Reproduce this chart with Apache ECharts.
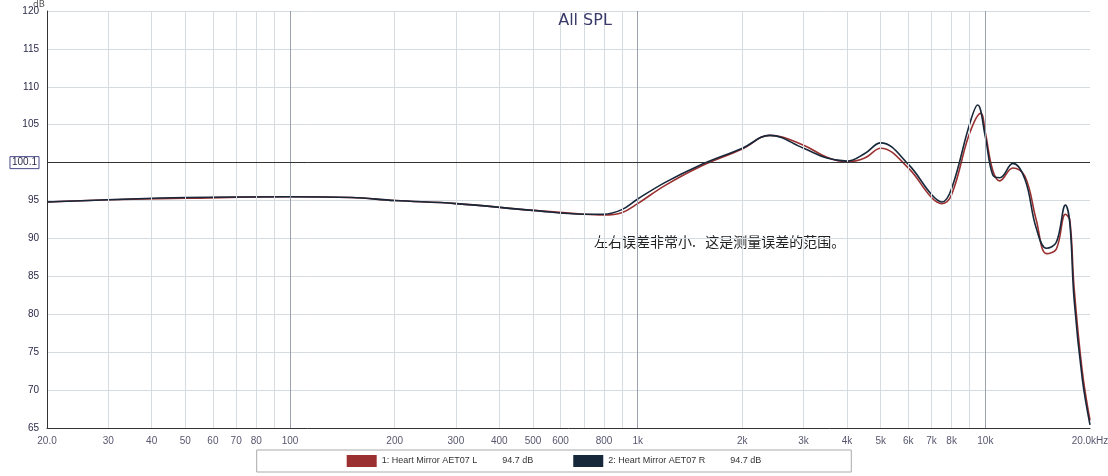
<!DOCTYPE html>
<html><head><meta charset="utf-8">
<script src="https://cdn.jsdelivr.net/npm/echarts@6/dist/echarts.min.js"></script>
<style>html,body{margin:0;background:#fff}#main{width:1108px;height:476px}</style>
</head><body><div id="main"></div>
<script>
// frequency (Hz) and SPL (dB)
var freqR = [20, 30, 50, 100, 150, 200, 300, 500, 700, 800, 900, 1000, 1200, 1500, 2000, 2400, 3000, 3500, 4000, 4500, 5000, 6000, 7000, 7500, 8000, 9000, 9500, 10000, 10500, 11000, 12000, 13000, 14000, 15000, 16000, 17000, 17500, 18000, 19000, 20000];
var splR  = [94.8, 95.1, 95.4, 95.5, 95.4, 95.0, 94.6, 93.7, 93.2, 93.2, 93.8, 95.2, 97.4, 99.6, 101.9, 103.6, 101.9, 100.6, 100.2, 101.2, 102.6, 99.8, 95.8, 94.8, 96.6, 105.0, 107.6, 103.4, 98.4, 98.0, 99.9, 97.8, 91.4, 88.7, 89.5, 94.4, 92.0, 82.0, 71.5, 65.4];
var freqL = [20, 30, 50, 100, 150, 200, 300, 500, 700, 800, 900, 1000, 1200, 1500, 2000, 2400, 3000, 3500, 4000, 4500, 5000, 6000, 7000, 7500, 8000, 9000, 9700, 10000, 10500, 11000, 12000, 13000, 14000, 15000, 16000, 17000, 17500, 18000, 19000, 20000];
var splL  = [94.8, 95.1, 95.3, 95.5, 95.4, 95.0, 94.6, 93.7, 93.2, 93.1, 93.4, 94.6, 97.0, 99.4, 101.8, 103.6, 102.3, 100.7, 100.1, 100.6, 101.9, 99.3, 95.4, 94.6, 95.8, 103.8, 106.5, 104.0, 99.0, 97.6, 99.3, 98.2, 92.5, 88.0, 88.6, 93.2, 92.4, 83.5, 72.5, 66.0];
var gridFreqs = [30, 40, 50, 60, 70, 80, 90, 200, 300, 400, 500, 600, 700, 800, 900, 2000, 3000, 4000, 5000, 6000, 7000, 8000, 9000];
var majorFreqs = [100, 1000, 10000];
var tickFreqs = [20, 30, 40, 50, 60, 70, 80, 100, 200, 300, 400, 500, 600, 800, 1000, 2000, 3000, 4000, 5000, 6000, 7000, 8000, 10000, 20000];
var tickLabels = ['20.0', '30', '40', '50', '60', '70', '80', '100', '200', '300', '400', '500', '600', '800', '1k', '2k', '3k', '4k', '5k', '6k', '7k', '8k', '10k', '20.0kHz'];

function pairs(f, v) { return f.map(function (x, i) { return [x, v[i]]; }); }

var gridLines = gridFreqs.map(function (f) {
  return { xAxis: f, lineStyle: { color: '#d6dbe0', width: 1, type: 'solid' }, label: { show: false } };
}).concat(majorFreqs.map(function (f) {
  return { xAxis: f, lineStyle: { color: '#9aa3ad', width: 1, type: 'solid' }, label: { show: false } };
}));

var chart = echarts.init(document.getElementById('main'));
chart.setOption({
  animation: false,
  title: { text: 'All SPL', left: 580, top: 8, textAlign: 'center',
    textStyle: { color: '#3a3a6a', fontSize: 16, fontWeight: 'normal', fontFamily: 'DejaVu Sans' } },
  graphic: [
    { type: 'text', left: 594, top: 235, style: { text: '左右误差非常小.   这是测量误差的范围。', fill: '#222', font: '14px "Noto Sans CJK SC"' } },
    { type: 'text', left: 33, top: 0, style: { text: 'dB', fill: '#555', font: '9px DejaVu Sans' } }
  ],
  legend: {
    data: ['1: Heart Mirror AET07 L', '2: Heart Mirror AET07 R'],
    bottom: 4, left: 'center', icon: 'rect', itemWidth: 30, itemHeight: 12, itemGap: 40,
    borderColor: '#aaa', borderWidth: 1, padding: [5, 90],
    textStyle: { fontSize: 9, color: '#333' },
    formatter: function (n) { return n + '          94.7 dB'; }
  },
  grid: { left: 47, right: 18, top: 11, bottom: 48 },
  xAxis: {
    type: 'log', logBase: 10, min: 20, max: 20000,
    axisLabel: { show: false }, axisTick: { show: false },
    splitLine: { show: false },
    axisLine: { lineStyle: { color: '#333' } }
  },
  yAxis: {
    type: 'value', min: 65, max: 120, interval: 5,
    axisLine: { show: true, lineStyle: { color: '#333' } }, axisTick: { show: false },
    axisLabel: { color: '#2a2a4a', fontSize: 10,
      formatter: function (v) { return v === 100 ? '{b|100.1}' : v; },
      rich: { b: { borderColor: '#4a4a8a', borderWidth: 1, padding: [1, 2], fontSize: 10, color: '#2a2a4a' } } },
    splitLine: { lineStyle: { color: '#d6dbe0' } }
  },
  series: [
    { name: '1: Heart Mirror AET07 L', type: 'line', data: pairs(freqL, splL), smooth: 0.4, showSymbol: false,
      lineStyle: { color: '#9a3030', width: 1.6 }, itemStyle: { color: '#9a3030' },
      markLine: { silent: true, symbol: 'none', data: gridLines.concat([{ yAxis: 100, lineStyle: { color: '#333', width: 1, type: 'solid' }, label: { show: false } }]) } },
    { name: '2: Heart Mirror AET07 R', type: 'line', data: pairs(freqR, splR), smooth: 0.4, showSymbol: false,
      lineStyle: { color: '#17283a', width: 1.6 }, itemStyle: { color: '#17283a' } },
    { name: 'ticks', type: 'scatter', silent: true, clip: false, symbolSize: 0,
      data: tickFreqs.map(function (f) { return [f, 65]; }),
      label: { show: true, position: 'bottom', distance: 8, color: '#2a2a4a', fontSize: 10,
        formatter: function (p) { return tickLabels[p.dataIndex]; } } }
  ]
});
</script></body></html>
